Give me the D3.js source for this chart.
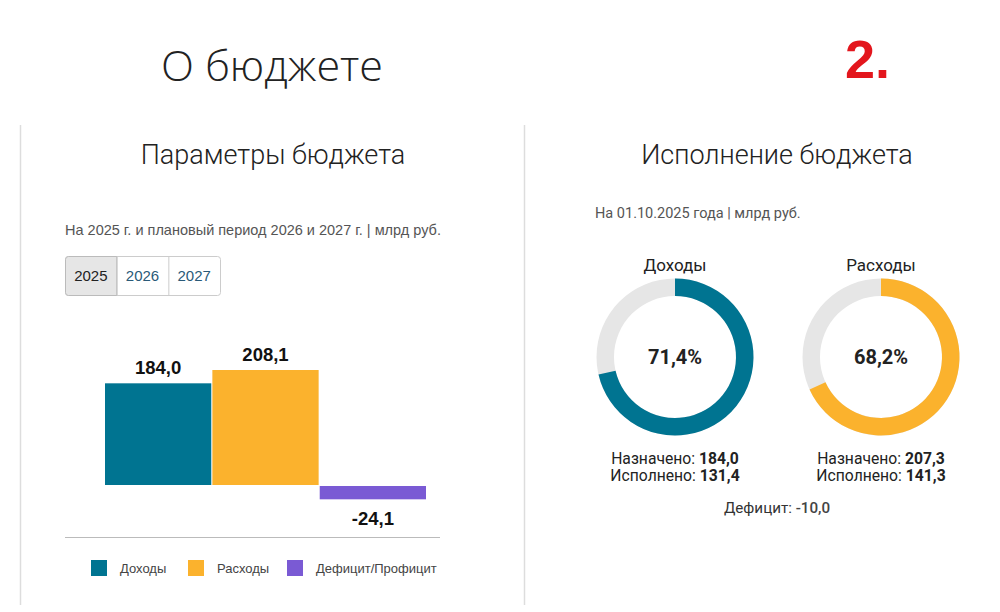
<!DOCTYPE html>
<html>
<head>
<meta charset="utf-8">
<script src="https://cdn.jsdelivr.net/npm/d3@7"></script>
<style>
  body { margin: 0; background: #fff; }
  svg { display: block; }
</style>
</head>
<body>
<svg id="chart" width="1000" height="612"></svg>
<script>
// Chart data
const years = ["2025", "2026", "2027"];
const barCategories = ["Доходы", "Расходы", "Дефицит/Профицит"];
const barValues = [184.0, 208.1, -24.1];
const barColors = ["#007491", "#fbb22d", "#7a5ad4"];

const execCategories = ["Доходы", "Расходы"];
const execPercent = [71.4, 68.2];
const execAssigned = [184.0, 207.3];
const execDone = [131.4, 141.3];
const execColors = ["#007491", "#fbb22d"];
const deficitValue = -10.0;

const ru = d3.formatLocale({ decimal: ",", thousands: " ", grouping: [3], currency: ["", " руб."], minus: "-" });
const fmt = ru.format(".1f");

const svg = d3.select("#chart");

// Page title and marker
svg.append("text")
  .attr("x", 161).attr("y", 81)
  .attr("font-family", "Open Sans").attr("font-weight", 300)
  .attr("font-size", 43).attr("fill", "#222")
  .attr("textLength", 222).attr("lengthAdjust", "spacingAndGlyphs")
  .text("О бюджете");

svg.append("text")
  .attr("x", 845).attr("y", 78)
  .attr("font-family", "Liberation Sans").attr("font-weight", 700)
  .attr("font-size", 54).attr("fill", "#e3161d")
  .attr("textLength", 45).attr("lengthAdjust", "spacingAndGlyphs")
  .text("2.");

// Panel borders
svg.append("line").attr("x1", 20.5).attr("x2", 20.5).attr("y1", 125).attr("y2", 605)
  .attr("stroke", "#ddd").attr("stroke-width", 1.5);
svg.append("line").attr("x1", 524.5).attr("x2", 524.5).attr("y1", 125).attr("y2", 605)
  .attr("stroke", "#ddd").attr("stroke-width", 1.5);

// ---------- Left panel: budget parameters ----------
svg.append("text")
  .attr("x", 273).attr("y", 164)
  .attr("text-anchor", "middle")
  .attr("font-family", "Roboto").attr("font-weight", 300)
  .attr("font-size", 27).attr("fill", "#222")
  .text("Параметры бюджета");

svg.append("text")
  .attr("x", 65).attr("y", 235)
  .attr("font-family", "Liberation Sans").attr("font-size", 14.5).attr("fill", "#555")
  .text("На 2025 г. и плановый период 2026 и 2027 г. | млрд руб.");

// Year buttons
const btnX = d3.scaleBand().domain(years).range([65, 220]);
const btns = svg.append("g");
btns.append("rect")
  .attr("x", 65.5).attr("y", 256.5).attr("width", 155).attr("height", 39)
  .attr("rx", 3).attr("fill", "#fff").attr("stroke", "#ccc");
btns.append("path")
  .attr("d", `M${btnX("2026")},256.5 H68.5 a3,3 0 0 0 -3,3 V292.5 a3,3 0 0 0 3,3 H${btnX("2026")} Z`)
  .attr("fill", "#e6e6e6").attr("stroke", "#bbb");
btns.selectAll("line.sep").data(years.slice(1)).join("line")
  .attr("x1", d => btnX(d) + 0.5).attr("x2", d => btnX(d) + 0.5)
  .attr("y1", 257).attr("y2", 295).attr("stroke", "#ccc");
btns.selectAll("text").data(years).join("text")
  .attr("x", d => btnX(d) + btnX.bandwidth() / 2)
  .attr("y", 281)
  .attr("text-anchor", "middle")
  .attr("font-family", "Liberation Sans").attr("font-size", 15)
  .attr("fill", (d, i) => i === 0 ? "#222" : "#2a5a78")
  .text(d => d);

// Bars
const x = d3.scaleBand().domain(barCategories).range([105, 426]).paddingInner(0.01);
const y = d3.scaleLinear().domain([0, 208.1]).range([485, 370]);

svg.append("g").selectAll("rect").data(barValues).join("rect")
  .attr("x", (d, i) => x(barCategories[i]))
  .attr("width", x.bandwidth())
  .attr("y", d => d >= 0 ? y(d) : y(0) + 1)
  .attr("height", d => Math.abs(y(d) - y(0)))
  .attr("fill", (d, i) => barColors[i]);

svg.append("g").selectAll("text").data(barValues).join("text")
  .attr("x", (d, i) => x(barCategories[i]) + x.bandwidth() / 2)
  .attr("y", d => d >= 0 ? y(d) - 9 : y(d) + 27)
  .attr("text-anchor", "middle")
  .attr("font-family", "Liberation Sans").attr("font-weight", 700)
  .attr("font-size", 18.5).attr("fill", "#111")
  .text(d => fmt(d));

svg.append("line").attr("x1", 65).attr("x2", 440).attr("y1", 537.5).attr("y2", 537.5)
  .attr("stroke", "#bbb");

// Legend
const legendX = [91, 188, 287];
const legend = svg.append("g").selectAll("g").data(barCategories).join("g")
  .attr("transform", (d, i) => `translate(${legendX[i]},560)`);
legend.append("rect").attr("width", 16).attr("height", 16)
  .attr("fill", (d, i) => barColors[i]);
legend.append("text").attr("x", 29).attr("y", 13)
  .attr("font-family", "Liberation Sans").attr("font-size", 13).attr("fill", "#444")
  .text(d => d);

// ---------- Right panel: budget execution ----------
svg.append("text")
  .attr("x", 777).attr("y", 164)
  .attr("text-anchor", "middle")
  .attr("font-family", "Roboto").attr("font-weight", 300)
  .attr("font-size", 27).attr("fill", "#222")
  .text("Исполнение бюджета");

svg.append("text")
  .attr("x", 595).attr("y", 218)
  .attr("font-family", "Roboto").attr("font-size", 14.5).attr("fill", "#555")
  .text("На 01.10.2025 года | млрд руб.");

const donutX = d3.scalePoint().domain(execCategories).range([675, 881]);
const cy = 357;
const arc = d3.arc().innerRadius(61).outerRadius(78.5);
const pct = d3.scaleLinear().domain([0, 100]).range([0, 2 * Math.PI]);

const donuts = svg.append("g").selectAll("g").data(execCategories).join("g")
  .attr("transform", d => `translate(${donutX(d)},${cy})`);

donuts.append("path")
  .attr("d", arc({ startAngle: 0, endAngle: 2 * Math.PI }))
  .attr("fill", "#e6e6e6");
donuts.append("path")
  .attr("d", (d, i) => arc({ startAngle: 0, endAngle: pct(execPercent[i]) }))
  .attr("fill", (d, i) => execColors[i]);

donuts.append("text")
  .attr("y", -86)
  .attr("text-anchor", "middle")
  .attr("font-family", "Roboto").attr("font-size", 17).attr("fill", "#222")
  .text(d => d);

donuts.append("text")
  .attr("y", 7)
  .attr("text-anchor", "middle")
  .attr("font-family", "Roboto").attr("font-weight", 700)
  .attr("font-size", 20).attr("fill", "#222")
  .text((d, i) => fmt(execPercent[i]) + "%");

const lines = [["Назначено: ", execAssigned], ["Исполнено: ", execDone]];
lines.forEach(([label, vals], k) => {
  const t = donuts.append("text")
    .attr("y", 107 + k * 17)
    .attr("text-anchor", "middle")
    .attr("font-family", "Roboto").attr("font-size", 15.7).attr("fill", "#222");
  t.append("tspan").text(label);
  t.append("tspan").attr("font-weight", 700).text((d, i) => fmt(vals[i]));
});

const def = svg.append("text")
  .attr("x", 777).attr("y", 513)
  .attr("text-anchor", "middle")
  .attr("font-family", "Roboto").attr("font-size", 15.2).attr("fill", "#333");
def.append("tspan").text("Дефицит: ");
def.append("tspan").attr("font-weight", 500).attr("fill", "#444").text(fmt(deficitValue));
</script>
</body>
</html>
